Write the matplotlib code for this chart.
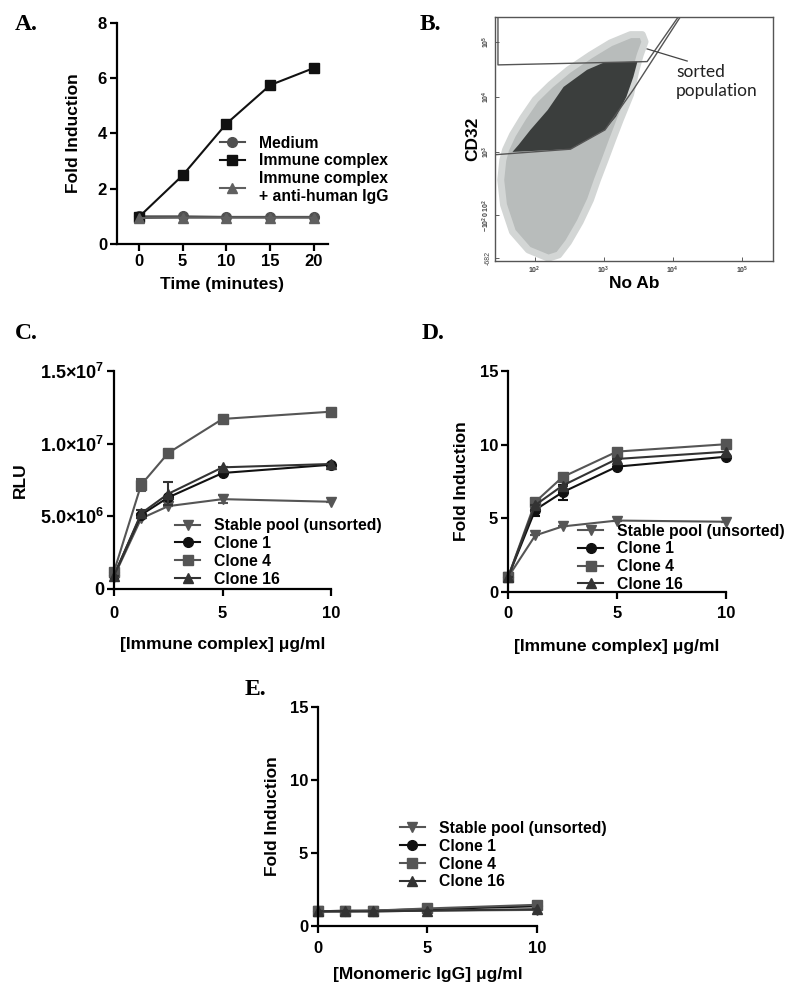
import matplotlib
matplotlib.use("Agg")
import matplotlib.pyplot as plt
import numpy as np

plt.rcParams['font.family'] = ['Liberation Sans', 'DejaVu Sans']
plt.rcParams['font.weight'] = 'bold'
plt.rcParams['mathtext.fontset'] = 'custom'
plt.rcParams['mathtext.rm'] = 'Liberation Sans:bold'
plt.rcParams['mathtext.it'] = 'Liberation Sans:bold'
plt.rcParams['mathtext.bf'] = 'Liberation Sans:bold'

# ---- panel A: time course
time_min = [0, 5, 10, 15, 20]
fi_medium = [1.0, 1.0, 0.98, 0.98, 0.98]
fi_immune = [0.97, 2.48, 4.35, 5.75, 6.37]
fi_immune_err = [0, 0, 0, 0, 0.1]
fi_anti_igg = [0.94, 0.95, 0.95, 0.95, 0.95]

# ---- panels C, D, E: dose response
conc = [0, 1.25, 2.5, 5, 10]
series_names = ['Stable pool (unsorted)', 'Clone 1', 'Clone 4', 'Clone 16']

rlu_pool = [0.85e6, 4.85e6, 5.7e6, 6.18e6, 6.0e6]
rlu_c1 = [0.95e6, 5.1e6, 6.3e6, 7.98e6, 8.55e6]
rlu_c4 = [1.2e6, 7.17e6, 9.36e6, 11.7e6, 12.2e6]
rlu_c16 = [0.9e6, 5.2e6, 6.55e6, 8.37e6, 8.6e6]
rlu_pool_err = [0, 0, 0, 0.27e6, 0]
rlu_c1_err = [0, 0, 0, 0, 0]
rlu_c4_err = [0, 0.42e6, 0, 0, 0]
rlu_c16_err = [0, 0.25e6, 0.8e6, 0, 0]

fi_pool = [1.0, 3.84, 4.45, 4.85, 4.77]
fi_c1 = [1.0, 5.58, 6.77, 8.51, 9.18]
fi_c4 = [1.0, 6.11, 7.8, 9.53, 10.03]
fi_c16 = [1.0, 5.9, 7.22, 9.03, 9.52]
fi_pool_err = [0, 0, 0, 0, 0]
fi_c1_err = [0, 0.4, 0.5, 0, 0]
fi_c4_err = [0, 0, 0, 0, 0]
fi_c16_err = [0, 0, 0, 0, 0]

mono_pool = [1.0, 1.0, 1.0, 1.05, 1.1]
mono_c1 = [1.0, 1.05, 1.05, 1.15, 1.35]
mono_c4 = [1.0, 1.0, 1.05, 1.2, 1.45]
mono_c16 = [1.0, 1.0, 1.0, 1.05, 1.15]
mono_err = [0, 0, 0, 0, 0]

# ---- panel B: flow gating (log decades), cloud outlines and gates
cloud_x = [2.20, 1.91, 1.68, 1.55, 1.51, 1.54, 1.58, 1.68, 1.83, 2.01, 2.23, 2.49, 2.81, 3.10,
           3.39, 3.56, 3.60, 3.53, 3.47, 3.39, 3.24, 3.13, 3.02, 2.91, 2.81, 2.66, 2.49, 2.35]
cloud_y = [1.07, 1.22, 1.55, 2.04, 2.49, 2.85, 3.04, 3.31, 3.62, 3.95, 4.22, 4.49, 4.76, 4.98,
           5.13, 5.13, 5.00, 4.76, 4.49, 4.04, 3.58, 3.22, 2.85, 2.49, 2.13, 1.73, 1.36, 1.13]
dense_x = [1.68, 2.52, 3.02, 3.18, 3.33, 3.43, 3.49, 3.00, 2.76, 2.42, 2.19, 1.94, 1.77]
dense_y = [3.00, 3.05, 3.40, 3.64, 4.00, 4.36, 4.64, 4.62, 4.49, 4.18, 3.76, 3.40, 3.13]
gate_top_x = [1.47, 4.08, 3.63, 1.47, 1.47]
gate_top_y = [5.45, 5.45, 4.64, 4.58, 5.45]
gate_sort_x = [1.44, 2.52, 3.02, 3.43, 4.11]
gate_sort_y = [2.95, 3.05, 3.40, 4.13, 5.45]

fig = plt.figure(figsize=(8, 9.93), dpi=100)

spine_w = 1.6
ink = 'black'
fs_tick = 12
fs_label = 12.5
fs_leg = 11.3


def style_prism(ax, xpad=2):
    for s in ['top', 'right']:
        ax.spines[s].set_visible(False)
    for s in ['left', 'bottom']:
        ax.spines[s].set_linewidth(spine_w)
        ax.spines[s].set_color(ink)
    ax.tick_params(width=spine_w, length=5, labelsize=fs_tick, colors=ink, pad=2)
    ax.tick_params(axis='x', pad=xpad)
    for lab in ax.get_xticklabels() + ax.get_yticklabels():
        lab.set_fontweight('bold')


def add_legend(ax, handles, x, y):
    leg = ax.legend(handles=handles, loc='upper left', bbox_to_anchor=(x, y), frameon=False,
                    borderpad=0, borderaxespad=0, handlelength=1.6,
                    handletextpad=0.9, labelspacing=0.18,
                    prop={'size': fs_leg, 'weight': 'bold'})
    return leg


# ---------------- A
axA = fig.add_axes([0.146, 0.7543, 0.264, 0.2226])
hA1, = axA.plot(time_min, fi_medium, '-o', color='#505050', ms=7, lw=1.5, label='Medium', clip_on=False)
hA2, = axA.plot(time_min, fi_immune, '-s', color='#111111', ms=7, lw=1.5, label='Immune complex',
                clip_on=False)
axA.errorbar(time_min, fi_immune, yerr=fi_immune_err, fmt='none', ecolor='#111111', capsize=3)
hA3, = axA.plot(time_min, fi_anti_igg, '-^', color='#606060', ms=7, lw=1.5,
                label='Immune complex\n+ anti-human IgG', clip_on=False)
axA.set_xlim(-2.5, 21.6)
axA.set_ylim(0, 8)
axA.set_xticks([0, 5, 10, 15, 20])
axA.set_yticks([0, 2, 4, 6, 8])
axA.set_xlabel('Time (minutes)', fontsize=fs_label, fontweight='bold', labelpad=6)
axA.set_ylabel('Fold Induction', fontsize=fs_label, fontweight='bold', labelpad=12)
style_prism(axA)
add_legend(axA, [hA1, hA2, hA3], 0.488, 0.49)

# ---------------- B
axB = fig.add_axes([0.619, 0.7372, 0.347, 0.2457])
axB.fill(cloud_x, cloud_y, facecolor='#b8bcbb', edgecolor='#d3d6d5', lw=5, joinstyle='round')
axB.fill(dense_x, dense_y, facecolor='#3b3e3d', edgecolor='none')
axB.plot(gate_top_x, gate_top_y, color='#555555', lw=1.0)
axB.plot(gate_sort_x, gate_sort_y, color='#555555', lw=1.0)
axB.plot([3.63, 4.21], [4.87, 4.65], color='#444444', lw=0.9)
axB.text(4.05, 4.6, 'sorted\npopulation', family='Lato', fontweight='normal', fontsize=12.5,
         color='#222222', va='top', ha='left', linespacing=1.25)
axB.set_xlim(1.43, 5.45)
axB.set_ylim(1.02, 5.45)
axB.set_xticks([2, 3, 4, 5])
axB.set_xticklabels(['$10^2$', '$10^3$', '$10^4$', '$10^5$'])
axB.set_yticks([1.07, 1.85, 3, 4, 5])
axB.set_yticklabels(['-682', r'$-10^2\,0\,10^2$', '$10^3$', '$10^4$', '$10^5$'], rotation=90, va='center')
for s in axB.spines.values():
    s.set_color('#555555')
    s.set_linewidth(1.0)
axB.tick_params(direction='in', length=3, width=0.6, labelsize=5, colors='#444444', pad=2.5)
for lab in axB.get_xticklabels() + axB.get_yticklabels():
    lab.set_fontweight('normal')
axB.set_xlabel('No Ab', fontsize=fs_label, fontweight='bold', labelpad=0)
axB.set_ylabel('CD32', fontsize=fs_label, fontweight='bold', labelpad=0)

# ---------------- C, D, E shared drawing
styles = [('v', '#555555'), ('o', '#111111'), ('s', '#555555'), ('^', '#333333')]


def dose_panel(rect, ys, errs, ylim, yticks, yticklabels, ylabel, xlabel, leg_xy,
               ylabelpad, xpad, xlabelpad):
    ax = fig.add_axes(rect)
    handles = []
    for (mk, col), y, e, name in zip(styles, ys, errs, series_names):
        h, = ax.plot(conc, y, '-' + mk, color=col, ms=7, lw=1.5, label=name, clip_on=False)
        ax.errorbar(conc, y, yerr=e, fmt='none', ecolor=col, capsize=3.5,
                    elinewidth=1.5, capthick=1.5)
        handles.append(h)
    ax.set_xlim(0, 10)
    ax.set_ylim(*ylim)
    ax.set_xticks([0, 5, 10])
    ax.set_yticks(yticks)
    ax.set_yticklabels(yticklabels)
    ax.set_xlabel(xlabel, fontsize=fs_label, fontweight='bold', labelpad=xlabelpad)
    ax.set_ylabel(ylabel, fontsize=fs_label, fontweight='bold', labelpad=ylabelpad)
    style_prism(ax, xpad)
    add_legend(ax, handles, *leg_xy)
    return ax


axC = dose_panel([0.1425, 0.4069, 0.2715, 0.2195],
                 [rlu_pool, rlu_c1, rlu_c4, rlu_c16],
                 [rlu_pool_err, rlu_c1_err, rlu_c4_err, rlu_c16_err],
                 (0, 1.5e7), [0, 5e6, 1e7, 1.5e7],
                 ['0', r'5.0$\times$10$^6$', r'1.0$\times$10$^7$', r'1.5$\times$10$^7$'],
                 'RLU', '[Immune complex] μg/ml', (0.281, 0.325), 9, 7, 12)
for lab in axC.get_yticklabels():
    lab.set_fontsize(13)

axD = dose_panel([0.635, 0.4038, 0.2725, 0.2226],
                 [fi_pool, fi_c1, fi_c4, fi_c16],
                 [fi_pool_err, fi_c1_err, fi_c4_err, fi_c16_err],
                 (0, 15), [0, 5, 10, 15], ['0', '5', '10', '15'],
                 'Fold Induction', '[Immune complex] μg/ml', (0.321, 0.31), 8, 5, 13)

axE = dose_panel([0.3975, 0.0675, 0.2735, 0.2205],
                 [mono_pool, mono_c1, mono_c4, mono_c16],
                 [mono_err] * 4,
                 (0, 15), [0, 5, 10, 15], ['0', '5', '10', '15'],
                 'Fold Induction', '[Monomeric IgG] μg/ml', (0.374, 0.48), 7, 5.5, 8)

# panel letters
for lx, ly, letter in [(0.019, 0.975, 'A.'), (0.524, 0.975, 'B.'), (0.019, 0.664, 'C.'),
                       (0.527, 0.664, 'D.'), (0.306, 0.306, 'E.')]:
    fig.text(lx, ly, letter, family='Liberation Serif', fontweight='bold', fontsize=17,
             va='center', ha='left')

fig.savefig('out.png', dpi=100)
